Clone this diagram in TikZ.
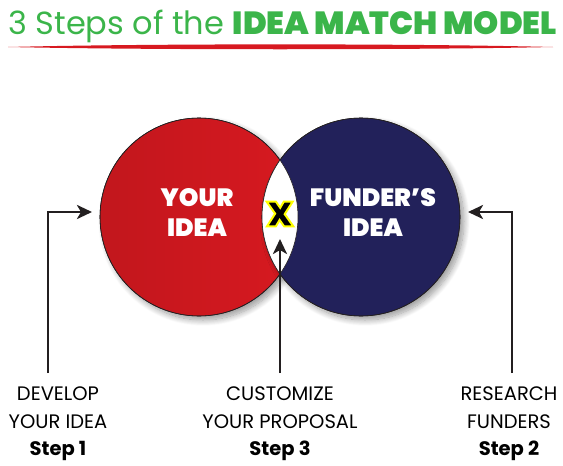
\documentclass[tikz,border=0pt]{standalone}
\usepackage{fontspec}
\setmainfont{Poppins}
\newfontfamily\popblack{Poppins Black}
\usetikzlibrary{arrows.meta,shadows.blur}
\definecolor{tgreen}{HTML}{3BB54A}
\definecolor{tred}{HTML}{D71920}
\definecolor{tnavy}{HTML}{22215A}
\definecolor{tline}{HTML}{231F20}
\newcommand{\outlinedX}{\special{pdf:literal 2 w 1 1 0 RG 2 Tr}X\special{pdf:literal 0 Tr}}
\begin{document}
\begin{tikzpicture}[x=1pt,y=-1pt,
  ideatext/.style={text=white,font=\popblack\fontsize{25}{30}\selectfont,align=center},
  steptext/.style={align=center,font=\fontsize{19.5}{27.5}\selectfont,text=black},
  conn/.style={draw=tline,line width=2.8pt,-{Stealth[length=15pt,width=14pt,inset=4pt]}},
  circ/.style={circle,minimum size=198pt,inner sep=0pt,draw=tline,line width=0.6pt,
    blur shadow={shadow xshift=4pt,shadow yshift=-4pt,shadow blur steps=12,shadow blur radius=6pt}}]
\useasboundingbox (0,0) rectangle (563,466);
% title
\node[anchor=base west,inner sep=0pt,text=tgreen,font=\fontsize{32}{36}\selectfont] (title) at (8,34)
  {3 Steps of the {\popblack IDEA MATCH MODEL}};
\fill[tred] (8,47) .. controls (150,43.5) and (410,43.5) .. (553,47)
   .. controls (410,50) and (150,50) .. (8,47) -- cycle;
% circles
\node[circ,left color=tred!90!black,right color=tred] (left) at (199,217) {};
\node[circ,fill=tnavy] (right) at (361,217) {};
\begin{scope}
  \clip (199,217) circle (99);
  \fill[white] (361,217) circle (99);
\end{scope}
\draw[tline,line width=0.6pt] (199,217) circle (99);
\draw[tline,line width=0.6pt] (361,217) circle (99);
\node[ideatext] (yourtxt) at (197,212) {YOUR\\IDEA};
\node[ideatext] (fundtxt) at (373,212) {FUNDER’S\\IDEA};
% X
\node[text=black,font=\popblack\fontsize{35}{35}\selectfont,inner sep=0pt] (xmark) at (280,214) {\outlinedX};
% steps
\node[steptext] (s1) at (58,424) {DEVELOP\\YOUR IDEA\\\textbf{Step 1}};
\node[steptext] (s3) at (280,424) {CUSTOMIZE\\YOUR PROPOSAL\\\textbf{Step 3}};
\node[steptext] (s2) at (509,424) {RESEARCH\\FUNDERS\\\textbf{Step 2}};
% arrows
\coordinate (a1) at (48,373);
\coordinate (a2) at (512,373);
\coordinate (a3) at (280,373);
\draw[conn] (a1) |- (92,212);
\draw[conn] (a2) |- (468,212);
\draw[conn] (a3) -- (280,239);
\end{tikzpicture}
\end{document}
